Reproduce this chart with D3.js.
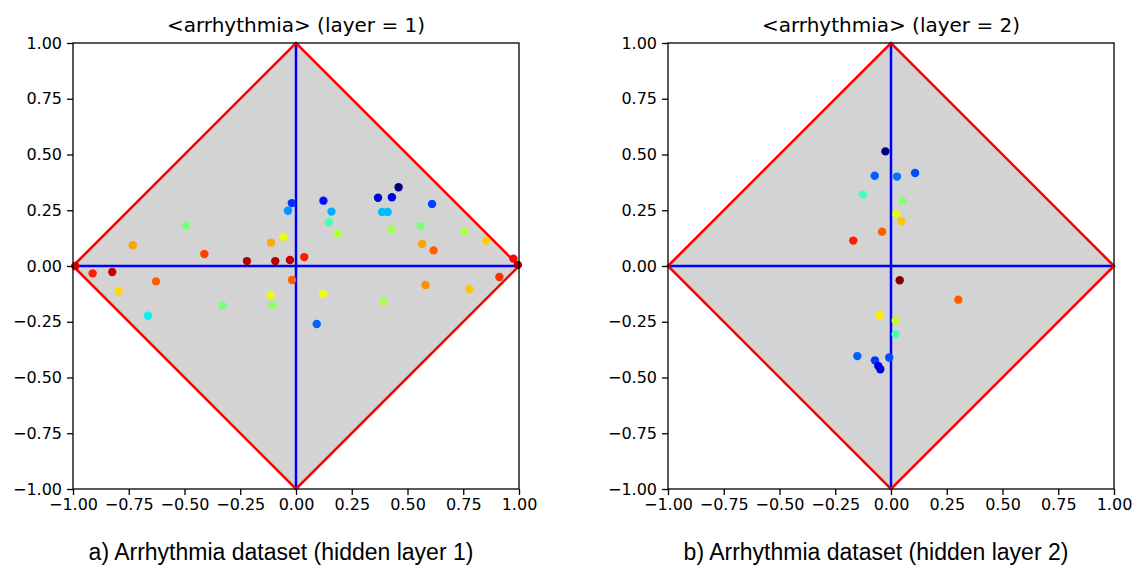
<!DOCTYPE html>
<html>
<head>
<meta charset="utf-8">
<script src="https://cdn.jsdelivr.net/npm/d3@7"></script>
<style>
  body { margin: 0; background: #fff; }
  .tick text { font-family: "DejaVu Sans", sans-serif; font-size: 16px; fill: #000; }
</style>
</head>
<body>
<div id="chart"></div>
<script>
// tick values shared by both panels
const ticks = [-1, -0.75, -0.5, -0.25, 0, 0.25, 0.5, 0.75, 1];

// hidden layer 1 points (x, y, colour value on jet scale)
const layer1X = [-0.99, -0.912, -0.824, -0.732, -0.795, -0.628, -0.664, -0.493, -0.411, -0.329,
  -0.220, -0.112, -0.057, -0.093, -0.114, -0.105, -0.027, 0.037, -0.018, -0.019,
  -0.036, 0.123, 0.159, 0.148, 0.188, 0.368, 0.430, 0.460, 0.386, 0.411,
  0.428, 0.559, 0.610, 0.566, 0.617, 0.756, 0.853, 0.975, 0.995, 0.121,
  0.392, 0.581, 0.777, 0.912, 0.093];
const layer1Y = [0.0, -0.033, -0.027, 0.093, -0.112, -0.069, -0.223, 0.181, 0.054, -0.178,
  0.022, 0.105, 0.130, 0.022, -0.130, -0.176, 0.027, 0.040, -0.063, 0.282,
  0.248, 0.293, 0.244, 0.196, 0.145, 0.306, 0.308, 0.353, 0.242, 0.242,
  0.164, 0.179, 0.278, 0.099, 0.070, 0.154, 0.113, 0.033, 0.005, -0.126,
  -0.161, -0.085, -0.103, -0.049, -0.260];
const layer1C = [0.93, 0.88, 0.94, 0.74, 0.68, 0.81, 0.36, 0.50, 0.84, 0.50,
  0.96, 0.73, 0.63, 0.96, 0.63, 0.52, 0.94, 0.88, 0.81, 0.17,
  0.27, 0.14, 0.30, 0.44, 0.57, 0.09, 0.09, 0.0, 0.31, 0.31,
  0.55, 0.50, 0.19, 0.74, 0.81, 0.56, 0.69, 0.90, 0.97, 0.64,
  0.55, 0.76, 0.70, 0.86, 0.22];

// hidden layer 2 points
const layer2X = [-0.025, -0.073, 0.027, 0.108, -0.126, 0.051, 0.024, 0.046, -0.040, -0.169,
  0.039, 0.302, -0.051, 0.021, 0.021, -0.151, -0.072, -0.008, -0.057, -0.048];
const layer2Y = [0.514, 0.405, 0.401, 0.417, 0.320, 0.293, 0.233, 0.202, 0.154, 0.114,
  -0.064, -0.151, -0.220, -0.244, -0.306, -0.404, -0.423, -0.410, -0.448, -0.463];
const layer2C = [0.0, 0.22, 0.24, 0.20, 0.43, 0.51, 0.62, 0.70, 0.81, 0.88,
  1.0, 0.81, 0.66, 0.59, 0.44, 0.22, 0.18, 0.20, 0.09, 0.07];

const titles = ["<arrhythmia> (layer = 1)", "<arrhythmia> (layer = 2)"];
const captions = ["a) Arrhythmia dataset (hidden layer 1)", "b) Arrhythmia dataset (hidden layer 2)"];

// matplotlib "jet" colormap, piecewise linear per channel
const jetR = d3.scaleLinear().domain([0, 0.35, 0.66, 0.89, 1]).range([0, 0, 1, 1, 0.5]).clamp(true);
const jetG = d3.scaleLinear().domain([0, 0.125, 0.375, 0.64, 0.91, 1]).range([0, 0, 1, 1, 0, 0]).clamp(true);
const jetB = d3.scaleLinear().domain([0, 0.11, 0.34, 0.65, 1]).range([0.5, 1, 1, 0, 0]).clamp(true);
const jet = (v) => d3.rgb(jetR(v) * 255, jetG(v) * 255, jetB(v) * 255).formatHex();

const width = 1147;
const height = 569;

const svg = d3.select("#chart")
  .append("svg")
  .attr("width", width)
  .attr("height", height)
  .style("background", "#fff");

const panels = [
  { left: 73, xs: layer1X, ys: layer1Y, cs: layer1C, capX: 281 },
  { left: 668, xs: layer2X, ys: layer2Y, cs: layer2C, capX: 876 },
];

const plotTop = 43;
const size = 446;

panels.forEach((p, i) => {
  const x = d3.scaleLinear().domain([-1, 1]).range([p.left, p.left + size]);
  const y = d3.scaleLinear().domain([-1, 1]).range([plotTop + size, plotTop]);

  const g = svg.append("g");

  // grey diamond
  const diamond = [[-1, 0], [0, 1], [1, 0], [0, -1]];
  g.append("polygon")
    .attr("points", diamond.map((d) => [x(d[0]), y(d[1])].join(",")).join(" "))
    .attr("fill", "#d3d3d3");

  // blue cross
  g.append("line")
    .attr("x1", x(-1)).attr("x2", x(1))
    .attr("y1", y(0)).attr("y2", y(0))
    .attr("stroke", "#0000ff").attr("stroke-width", 2.5);
  g.append("line")
    .attr("x1", x(0)).attr("x2", x(0))
    .attr("y1", y(-1)).attr("y2", y(1))
    .attr("stroke", "#0000ff").attr("stroke-width", 2.5);

  // red outline
  g.append("polygon")
    .attr("points", diamond.map((d) => [x(d[0]), y(d[1])].join(",")).join(" "))
    .attr("fill", "none")
    .attr("stroke", "#ff0000")
    .attr("stroke-width", 2.6)
    .attr("stroke-linejoin", "miter");

  // points
  g.selectAll("circle")
    .data(p.xs.map((v, k) => ({ x: v, y: p.ys[k], c: p.cs[k] })))
    .join("circle")
    .attr("cx", (d) => x(d.x))
    .attr("cy", (d) => y(d.y))
    .attr("r", 4.2)
    .attr("fill", (d) => jet(d.c));

  // frame
  g.append("rect")
    .attr("x", p.left).attr("y", plotTop)
    .attr("width", size).attr("height", size)
    .attr("fill", "none")
    .attr("stroke", "#000")
    .attr("stroke-width", 1.3);

  // axes
  const fmt = d3.format(".2f");
  g.append("g")
    .attr("transform", `translate(0, ${plotTop + size})`)
    .call(d3.axisBottom(x).tickValues(ticks).tickFormat(fmt).tickSize(6).tickPadding(4))
    .call((a) => a.select(".domain").remove())
    .call((a) => a.selectAll(".tick line").attr("stroke-width", 1.3));
  g.append("g")
    .attr("transform", `translate(${p.left}, 0)`)
    .call(d3.axisLeft(y).tickValues(ticks).tickFormat(fmt).tickSize(6).tickPadding(5))
    .call((a) => a.select(".domain").remove())
    .call((a) => a.selectAll(".tick line").attr("stroke-width", 1.3));

  // title
  g.append("text")
    .attr("x", p.left + size / 2)
    .attr("y", 32)
    .attr("text-anchor", "middle")
    .attr("font-family", "DejaVu Sans, sans-serif")
    .attr("font-size", 20)
    .text(titles[i]);

  // caption below
  g.append("text")
    .attr("x", p.capX)
    .attr("y", 560)
    .attr("text-anchor", "middle")
    .attr("font-family", "Liberation Sans, Arial, sans-serif")
    .attr("font-size", 23)
    .text(captions[i]);
});
</script>
</body>
</html>
